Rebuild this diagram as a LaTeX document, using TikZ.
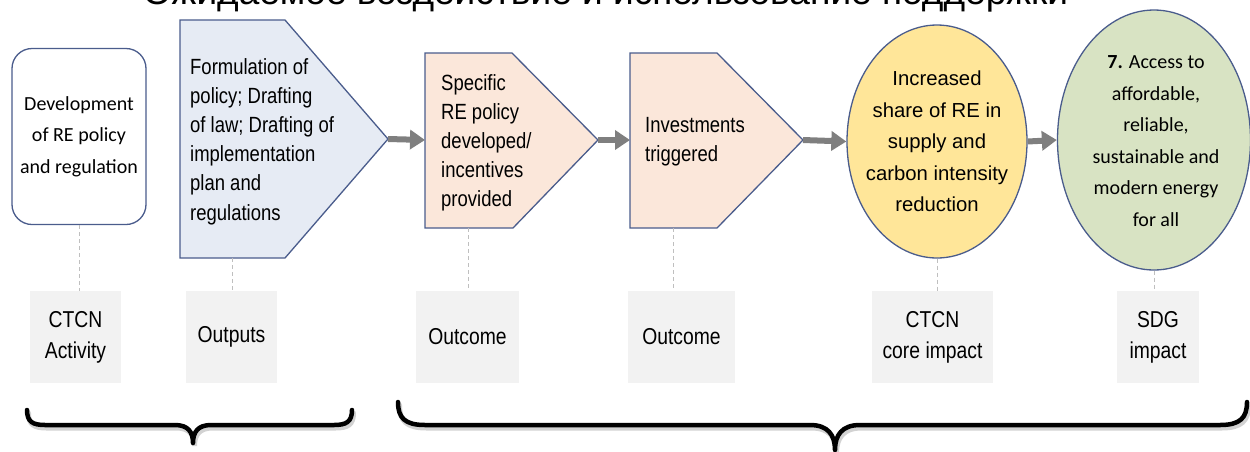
\documentclass[tikz,border=0pt]{standalone}
\usepackage{fontspec}
\setmainfont{Liberation Sans}
\newfontfamily\narrowfont[FakeStretch=0.84]{Liberation Sans}
\newfontfamily\califont{Carlito}
\usetikzlibrary{shapes.geometric,arrows.meta}
\definecolor{bord}{HTML}{4A5C8C}
\definecolor{bluefill}{HTML}{E6EBF4}
\definecolor{peach}{HTML}{FBE7DA}
\definecolor{yel}{HTML}{FFE699}
\definecolor{grn}{HTML}{D8E3C3}
\definecolor{labgray}{HTML}{F2F2F2}
\definecolor{arrgray}{HTML}{7F7F7F}
\definecolor{dashgray}{HTML}{BFBFBF}
\tikzset{
  shapeline/.style={draw=bord, line width=1.3pt, line join=miter},
  ptext/.style={inner sep=0pt, anchor=north west, align=left, text=black,
    font=\narrowfont\fontsize{22}{29.2}\selectfont},
  flow/.style={draw=arrgray, line width=6pt, -{Triangle[length=15pt,width=19pt]}},
  dashline/.style={draw=dashgray, line width=1pt, dash pattern=on 4pt off 3pt},
  labbox/.style={fill=labgray, minimum height=92pt, inner sep=0pt, align=center,
    font=\narrowfont\fontsize{23}{31}\selectfont},
  bracestyle/.style={draw=black, line width=4.5pt, line cap=round, line join=round},
  braceshadow/.style={draw=black!35, line width=5pt, line cap=round, opacity=0.5}
}
\begin{document}
\begin{tikzpicture}[x=1pt,y=-1pt]
\useasboundingbox (0,0) rectangle (1250,451);

% title (only the lower part lies inside the page)
\node[anchor=base, inner sep=0pt] (title) at (605.5,4)
  {\resizebox{925pt}{!}{Ожидаемое воздействие и использование поддержки}};

% CTCN activity box
\node[shapeline, fill=white, rounded corners=20pt, minimum width=134pt,
  minimum height=176pt, inner sep=0pt, align=center,
  font=\califont\fontsize{20}{31.5}\selectfont] (dev) at (79,136.5)
  {Development\\of RE policy\\and regulation};

% Outputs pentagon
\draw[shapeline, fill=bluefill] (180,20) -- (285,20) -- (388,139) -- (285,258) -- (180,258) -- cycle;
\coordinate (ftip) at (388,139);
\coordinate (fbot) at (232,258);
\node[ptext] (ftext) at (190,58)
  {Formulation of\\policy; Drafting\\of law; Drafting of\\implementation\\plan and\\regulations};

% Outcome 1 pentagon
\draw[shapeline, fill=peach] (425,53) -- (512,53) -- (598,140) -- (513,228) -- (425,228) -- cycle;
\coordinate (sleft) at (425,140);
\coordinate (stip) at (598,140);
\coordinate (sbot) at (468,228);
\node[ptext] (stext) at (441,74)
  {Specific\\RE policy\\developed/\\incentives\\provided};

% Outcome 2 pentagon
\draw[shapeline, fill=peach] (630,53) -- (717,53) -- (803,140) -- (717,228) -- (630,228) -- cycle;
\coordinate (ileft) at (630,140);
\coordinate (itip) at (803,140);
\coordinate (ibot) at (673,228);
\node[ptext] (itext) at (645,117) {Investments\\triggered};

% CTCN core impact ellipse
\node[ellipse, shapeline, fill=yel, minimum width=180pt, minimum height=233pt,
  inner sep=0pt] (core) at (937,141.5) {};
\node[inner sep=0pt, align=center, font=\fontsize{20.3}{31.5}\selectfont] (coretext) at (core.center)
  {Increased\\share of RE in\\supply and\\carbon intensity\\reduction};

% SDG ellipse
\node[ellipse, shapeline, fill=grn, minimum width=193pt, minimum height=260pt,
  inner sep=0pt] (sdg) at (1154,140) {};
\node[inner sep=0pt, align=center, font=\califont\fontsize{20}{31.6}\selectfont] (sdgtext) at (1156,141)
  {\textbf{7.} Access to\\affordable,\\reliable,\\sustainable and\\modern energy\\for all};

% arrows
\draw[flow] (ftip) -- (sleft);
\draw[flow] (stip) -- (ileft);
\draw[flow] (itip) -- (core.west);
\draw[flow] (core.east) -- (sdg.west);

% labels
\node[labbox, minimum width=91pt] (lab1) at (75.5,337) {CTCN\\Activity};
\node[labbox, minimum width=91pt] (lab2) at (231.5,337) {Outputs};
\node[labbox, minimum width=103pt] (lab3) at (467.5,337) {Outcome};
\node[labbox, minimum width=107pt] (lab4) at (681.5,337) {Outcome};
\node[labbox, minimum width=121pt] (lab5) at (932.5,337) {CTCN\\core impact};
\node[labbox, minimum width=82pt] (lab6) at (1158,337) {SDG\\impact};

% dashed leaders
\draw[dashline] (dev.south) -- (dev.south |- lab1.north);
\draw[dashline] (fbot) -- (fbot |- lab2.north);
\draw[dashline] (sbot) -- (sbot |- lab3.north);
\draw[dashline] (ibot) -- (ibot |- lab4.north);
\draw[dashline] (core.south) -- (core.south |- lab5.north);
\draw[dashline] (sdg.south) -- (sdg.south |- lab6.north);

% braces (shadow first)
\begin{scope}[shift={(1.5,3)}]
\draw[braceshadow] (27,410) .. controls (27,422) and (33,425) .. (45,425) -- (175,425)
  .. controls (188,425) and (193,432) .. (193,443)
  .. controls (193,432) and (198,425) .. (211,425) -- (334,425)
  .. controls (346,425) and (352,422) .. (352,410);
\draw[braceshadow] (398,402) .. controls (398,418) and (405,425) .. (425,425) -- (810,425)
  .. controls (828,425) and (835,435) .. (835,450)
  .. controls (835,435) and (842,425) .. (860,425) -- (1220,425)
  .. controls (1240,425) and (1247,418) .. (1247,402);
\end{scope}
\draw[bracestyle] (27,410) .. controls (27,422) and (33,425) .. (45,425) -- (175,425)
  .. controls (188,425) and (193,432) .. (193,443)
  .. controls (193,432) and (198,425) .. (211,425) -- (334,425)
  .. controls (346,425) and (352,422) .. (352,410);
\draw[bracestyle] (398,402) .. controls (398,418) and (405,425) .. (425,425) -- (810,425)
  .. controls (828,425) and (835,435) .. (835,450)
  .. controls (835,435) and (842,425) .. (860,425) -- (1220,425)
  .. controls (1240,425) and (1247,418) .. (1247,402);
\end{tikzpicture}
\end{document}
